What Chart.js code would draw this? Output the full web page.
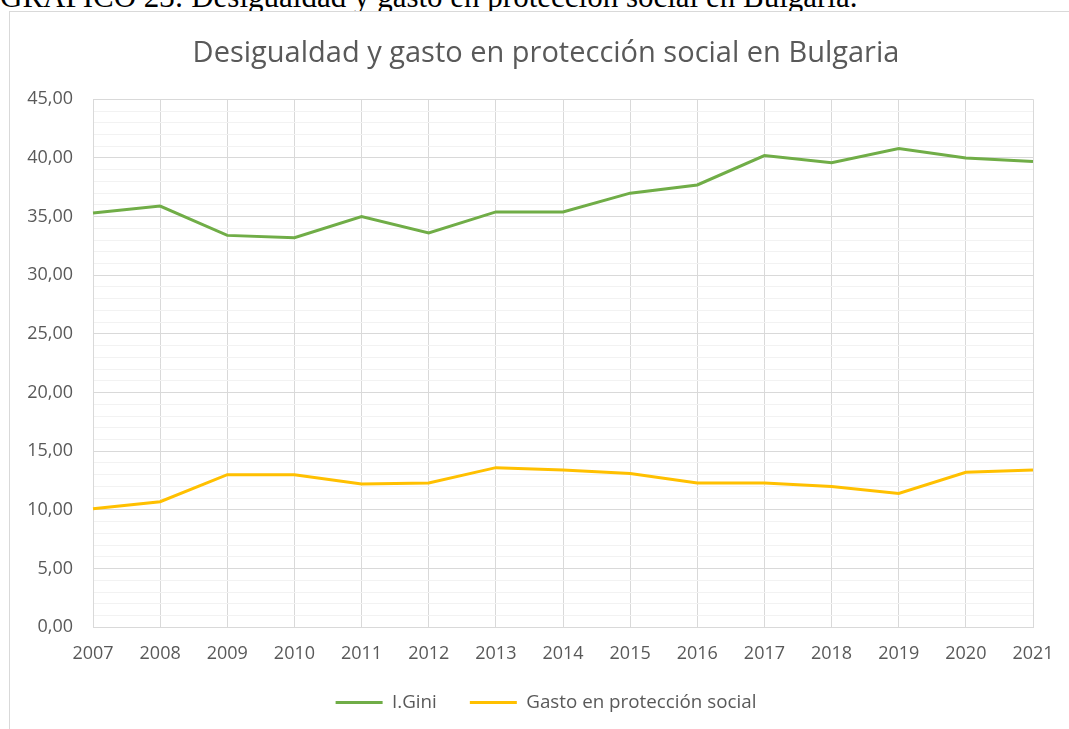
<!DOCTYPE html>
<html>
<head>
<meta charset="utf-8">
<script src="https://cdn.jsdelivr.net/npm/chart.js@4.4.1/dist/chart.umd.min.js"></script>
<style>
  html, body { margin: 0; padding: 0; background: #fff; overflow: hidden; width: 1069px; height: 729px; }
  #caption {
    position: absolute; left: 0; top: -19px;
    font-family: "Liberation Serif", "Times New Roman", serif;
    font-size: 31px; line-height: 31px; color: #000; white-space: nowrap;
  }
  #frame {
    position: absolute; left: 9px; top: 11px; width: 1080px; height: 740px;
    border-left: 1px solid #d9d9d9; border-top: 1px solid #d9d9d9; background: #fff;
  }
  #myChart { position: absolute; left: 0; top: 0; }
</style>
</head>
<body>
<div id="caption">GRÁFICO 23: Desigualdad y gasto en protección social en Bulgaria.</div>
<div id="frame"><canvas id="myChart" width="1072" height="730"></canvas></div>
<script>
// Datos
const years = ['2007', '2008', '2009', '2010', '2011', '2012', '2013', '2014',
               '2015', '2016', '2017', '2018', '2019', '2020', '2021'];
const gini = [35.3, 35.9, 33.4, 33.2, 35.0, 33.6, 35.4, 35.4, 37.0, 37.7, 40.2, 39.6, 40.8, 40.0, 39.7];
const gasto = [10.1, 10.7, 13.0, 13.0, 12.2, 12.3, 13.6, 13.4, 13.1, 12.3, 12.3, 12.0, 11.4, 13.2, 13.4];
const yMin = 0;
const yMax = 45;
const yMajorStep = 5;

document.addEventListener('DOMContentLoaded', () => {
    const textColor = '#595959';
    const fontFamily = '"Open Sans", Lato, sans-serif';

    const ctx = document.getElementById('myChart').getContext('2d');
    new Chart(ctx, {
        type: 'line',
        data: {
            labels: years,
            datasets: [{
                label: 'I.Gini',
                data: gini,
                borderColor: '#70ad47',
                backgroundColor: '#70ad47',
                borderWidth: 3,
                pointRadius: 0,
                tension: 0
            }, {
                label: 'Gasto en protección social',
                data: gasto,
                borderColor: '#ffc000',
                backgroundColor: '#ffc000',
                borderWidth: 3,
                pointRadius: 0,
                tension: 0
            }]
        },
        options: {
            responsive: false,
            animation: false,
            layout: { padding: { left: 0, right: 0, top: 0, bottom: 20 } },
            plugins: {
                title: {
                    display: true,
                    text: 'Desigualdad y gasto en protección social en Bulgaria',
                    color: textColor,
                    font: { family: fontFamily, size: 29, weight: 'normal', lineHeight: 1.2 },
                    padding: { top: 24, bottom: 28.5 }
                },
                legend: {
                    position: 'bottom',
                    labels: {
                        color: textColor,
                        font: { family: fontFamily, size: 18.8 },
                        boxWidth: 47,
                        boxHeight: 3,
                        padding: 33,
                        generateLabels: (chart) => {
                            const items = Chart.defaults.plugins.legend.labels.generateLabels(chart);
                            items.forEach(it => { it.lineWidth = 0; });
                            return items;
                        }
                    }
                },
                tooltip: { enabled: false }
            },
            scales: {
                x: {
                    type: 'category',
                    offset: false,
                    grid: { color: '#d9d9d9', lineWidth: 1, drawTicks: false },
                    border: { color: '#d9d9d9' },
                    ticks: {
                        color: textColor,
                        font: { family: fontFamily, size: 18 },
                        padding: 16,
                        maxRotation: 0,
                        autoSkip: false
                    },
                    afterFit: (scale) => { scale.height = 33; }
                },
                y: {
                    min: yMin,
                    max: yMax,
                    grid: {
                        drawTicks: false,
                        color: (c) => (c.tick && c.tick.value % yMajorStep === 0) ? '#d9d9d9' : '#f2f2f2',
                        lineWidth: 1
                    },
                    border: { color: '#d9d9d9' },
                    ticks: {
                        stepSize: 1,
                        autoSkip: false,
                        color: textColor,
                        font: { family: fontFamily, size: 18 },
                        padding: 20,
                        callback: (v) => v % yMajorStep === 0 ? v.toFixed(2).replace('.', ',') : ''
                    },
                    afterFit: (scale) => { scale.width = 83; }
                },
                // eje vacío a la derecha, solo para reservar margen
                yRight: {
                    position: 'right',
                    grid: { display: false, drawTicks: false },
                    border: { display: false },
                    ticks: { display: false },
                    afterFit: (scale) => { scale.width = 49; }
                }
            }
        }
    });
});
</script>
</body>
</html>
